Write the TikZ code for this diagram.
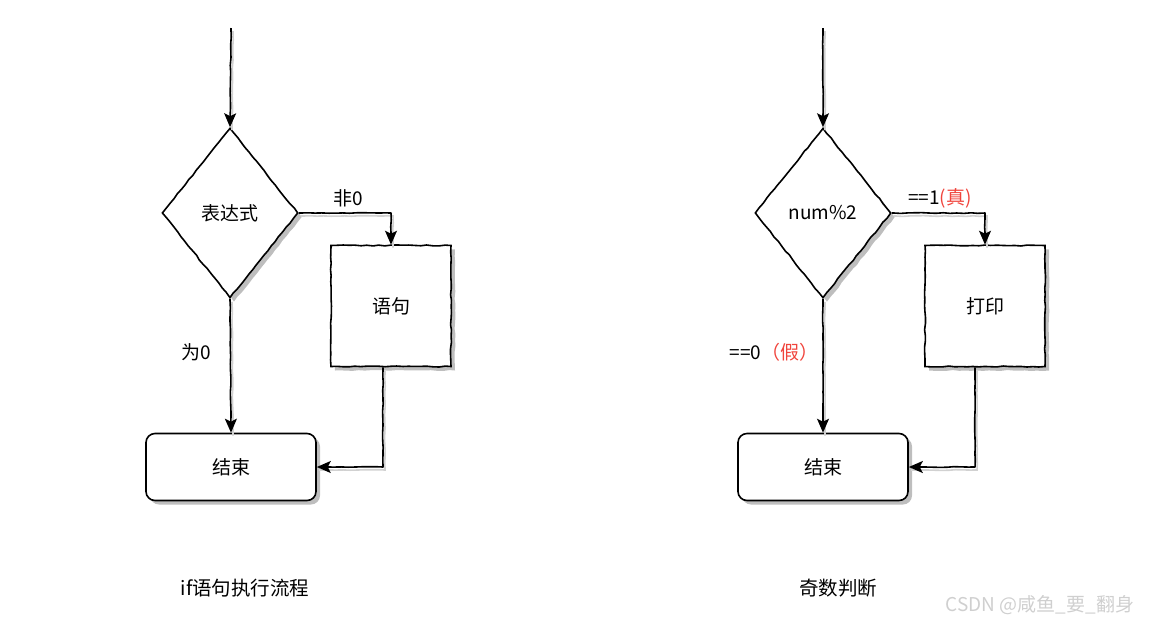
\documentclass[tikz,border=0pt]{standalone}
\usepackage{fontspec}
\setmainfont{Noto Sans CJK SC}
\usepackage{tikz}
\usetikzlibrary{arrows.meta,shapes.geometric,shadows,decorations.pathmorphing}
\definecolor{FlowRed}{HTML}{F0443C}
\definecolor{FlowShade}{HTML}{BEBEBE}
\definecolor{FlowMark}{HTML}{CFCFCF}

\begin{document}
\begin{tikzpicture}[x=1pt,y=-1pt,
  every node/.style={font=\fontsize{19}{22}\selectfont},
  sketch/.style={decorate,decoration={random steps,segment length=6pt,amplitude=0.5pt}},
  shade/.style={drop shadow={shadow xshift=4pt,shadow yshift=-4pt,fill=FlowShade,opacity=1}},
  decision/.style={diamond,draw,line width=1.6pt,fill=white,aspect=0.8,minimum width=136pt,minimum height=170pt,inner sep=0pt,sketch,shade},
  process/.style={rectangle,draw,line width=1.6pt,fill=white,minimum width=120pt,minimum height=121pt,sketch,shade},
  terminal/.style={rectangle,rounded corners=9pt,draw,line width=1.6pt,fill=white,minimum width=170pt,minimum height=67pt,shade},
  flowline/.style={draw,line width=1.6pt,-{Stealth[length=14pt,width=12pt,inset=3pt]},line join=round,
    preaction={draw=FlowShade!70,line width=1.6pt,-,transform canvas={shift={(2pt,-3pt)}}},
    decorate,decoration={random steps,segment length=7pt,amplitude=0.4pt,pre length=2pt,post length=12pt}},
  caption/.style={font=\fontsize{19.5}{23}\selectfont}]
  \useasboundingbox (0,0) rectangle (1153,625);

  % if flow
  \coordinate (inA) at (231,28);
  \node[decision] (condA) at (230,213) {表达式};
  \node[process] (stmtA) at (391,306) {语句};
  \node[terminal] (endA) at (231,467) {结束};
  \draw[flowline] (inA) -- (condA.north);
  \draw[flowline] (condA.east) -| (stmtA.north);
  \draw[flowline] (condA.south) -- (endA.north);
  \draw[flowline] ([xshift=-8pt]stmtA.south) |- (endA.east);
  \node at (348,198) {非0};
  \node at (196,352) {为0};
  \node[caption] at (245,588) {if语句执行流程};

  % odd number check
  \coordinate (inB) at (823,28);
  \node[decision] (condB) at (823,213) {num\%2};
  \node[process] (stmtB) at (985,306) {打印};
  \node[terminal] (endB) at (823,467) {结束};
  \draw[flowline] (inB) -- (condB.north);
  \draw[flowline] (condB.east) -| (stmtB.north);
  \draw[flowline] (condB.south) -- (endB.north);
  \draw[flowline] ([xshift=-10pt]stmtB.south) |- (endB.east);
  \node at (940,198) {==1\textcolor{FlowRed}{(真)}};
  \node at (774,352) {==0\textcolor{FlowRed}{（假）}};
  \node[caption] at (838,588) {奇数判断};

  \node[text=FlowMark] at (1040,605) {CSDN @咸鱼\_要\_翻身};
\end{tikzpicture}
\end{document}
